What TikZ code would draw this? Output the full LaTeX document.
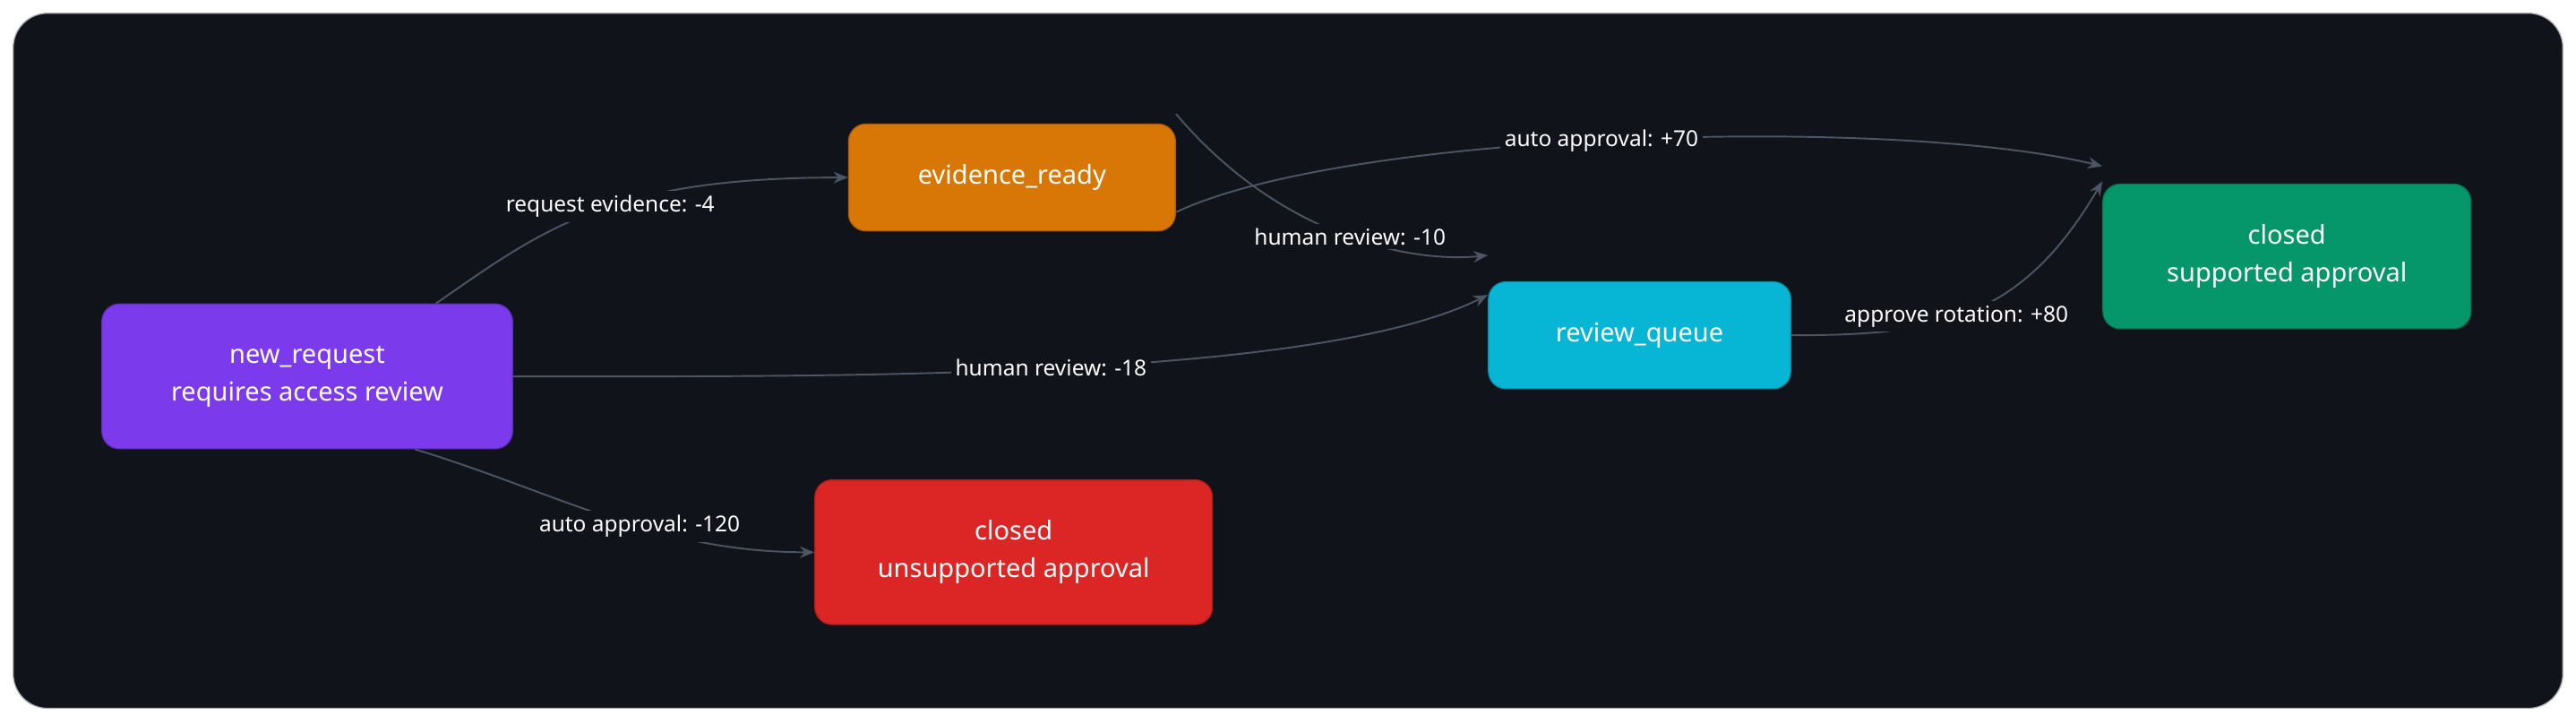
\documentclass[tikz,border=0pt]{standalone}
\usepackage{fontspec}
\setmainfont{Noto Sans}
\usetikzlibrary{arrows.meta,positioning}
\definecolor{bgdark}{HTML}{11131A}
\definecolor{edgegrey}{HTML}{4B5563}
\definecolor{cpurple}{HTML}{7C3AED}
\definecolor{corange}{HTML}{D97706}
\definecolor{cred}{HTML}{DC2626}
\definecolor{ccyan}{HTML}{06B6D4}
\definecolor{cgreen}{HTML}{059669}
\tikzset{
  state/.style={rounded corners=6pt,draw=#1!80!black,fill=#1,text=white,
    align=center,font=\fontsize{9}{13}\selectfont,inner sep=0pt},
  flow/.style={draw=edgegrey,line width=0.6pt,-{Stealth[length=5pt,width=4pt]}},
  tag/.style={fill=bgdark,text=white,font=\fontsize{7.6}{9}\selectfont,inner sep=1.5pt}
}
\begin{document}
\begin{tikzpicture}[x=0.02cm,y=-0.02cm]
\useasboundingbox (0,0) rectangle (1568,440);
\fill[white] (0,0) rectangle (1568,440);
\draw[fill=bgdark,draw=gray!60,rounded corners=12pt] (8,8) rectangle (1560,431);
\node (req) [state=cpurple,minimum width=5cm,minimum height=1.76cm] at (187,229) {new\_request\\requires access review};
\node (evi) [state=corange,minimum width=3.98cm,minimum height=1.3cm] at (616,108) {evidence\_ready};
\node (uns) [state=cred,minimum width=4.84cm,minimum height=1.76cm] at (617,336) {closed\\unsupported approval};
\node (rev) [state=ccyan,minimum width=3.68cm,minimum height=1.3cm] at (998,204) {review\_queue};
\node (sup) [state=cgreen,minimum width=4.48cm,minimum height=1.76cm] at (1392,156) {closed\\supported approval};
% connectors
\draw[flow] (req.north east) ++(-47,0) coordinate (r1) .. controls (330,140) and (370,108) .. (evi.west)
  node[tag,pos=0.55] {request evidence: -4};
\draw[flow] (req.east) .. controls (500,229) and (800,232) .. ([yshift=14]rev.west)
  node[tag,pos=0.5] {human review: -18};
\draw[flow] ([xshift=-34]req.south east) .. controls (340,300) and (400,336) .. (uns.west)
  node[tag,pos=0.58] {auto approval: -120};
\draw[flow] ([yshift=-12]evi.east) .. controls (820,80) and (1150,70) .. ([yshift=6]sup.north west)
  node[tag,pos=0.48] {auto approval: +70};
\draw[flow] ([yshift=22]evi.east) .. controls (780,145) and (860,160) .. ([yshift=9]rev.north west)
  node[tag,pos=0.52] {human review: -10};
\draw[flow] (rev.east) .. controls (1180,204) and (1230,195) .. ([yshift=26]sup.west)
  node[tag,pos=0.45] {approve rotation: +80};
\end{tikzpicture}
\end{document}
